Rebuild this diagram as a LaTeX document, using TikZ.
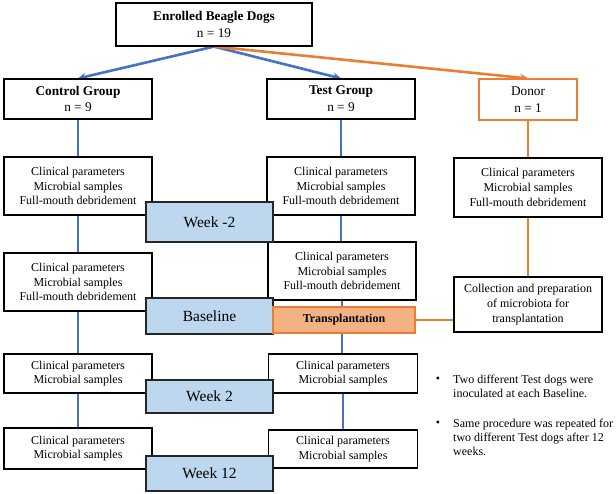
\documentclass[tikz,border=0pt]{standalone}
\usepackage{fontspec}
\setmainfont{Liberation Serif}
\usetikzlibrary{arrows.meta,backgrounds}
\definecolor{lblue}{HTML}{4472C4}
\definecolor{lorange}{HTML}{ED7D31}
\definecolor{wfill}{HTML}{BDD7EE}
\definecolor{tfill}{HTML}{F4B183}
\begin{document}
\begin{tikzpicture}[x=1pt,y=-1pt,
  box/.style={draw=black, line width=1.1pt, fill=white, align=center, inner sep=0pt,
    font=\fontsize{12}{14.7}\selectfont},
  head/.style={box, font=\fontsize{13.3}{16.7}\selectfont},
  week/.style={draw=black!85, line width=1.5pt, fill=wfill, inner sep=0pt,
    minimum width=127pt, font=\fontsize{15.5}{18}\selectfont},
  bl/.style={draw=lblue, line width=2.6pt},
  ol/.style={draw=lorange, line width=2.6pt},
  tip/.style={-{Stealth[length=8pt,width=8pt]}},
  btxt/.style={anchor=north west, align=left, inner sep=0pt, font=\fontsize{12}{14}\selectfont}
]
\useasboundingbox (0,0) rectangle (616,494);

% header boxes
\node[head, minimum width=196pt, minimum height=43pt] (enr) at (214,24.5)
  {\textbf{Enrolled Beagle Dogs}\\n = 19};
\node[head, minimum width=148pt, minimum height=40pt] (ctl) at (78,99)
  {\textbf{Control Group}\\n = 9};
\node[head, minimum width=148pt, minimum height=40pt] (tst) at (341,99)
  {\textbf{Test Group}\\n = 9};
\node[head, draw=lorange, minimum width=98pt, minimum height=41pt] (don) at (528,99.5)
  {Donor\\n = 1};

% clinical boxes
\node[box, minimum width=148pt, minimum height=58pt] (c1) at (78,186)
  {Clinical parameters\\Microbial samples\\Full-mouth debridement};
\node[box, minimum width=148pt, minimum height=58pt] (t1) at (341,186)
  {Clinical parameters\\Microbial samples\\Full-mouth debridement};
\node[box, minimum width=148pt, minimum height=59pt] (d1) at (528,187.5)
  {Clinical parameters\\Microbial samples\\Full-mouth debridement};
\node[box, minimum width=148pt, minimum height=58pt] (c2) at (78,282)
  {Clinical parameters\\Microbial samples\\Full-mouth debridement};
\node[box, minimum width=148pt, minimum height=58pt] (t2) at (342,271)
  {Clinical parameters\\Microbial samples\\Full-mouth debridement};
\node[box, minimum width=148pt, minimum height=55pt] (coll) at (528,304.5)
  {Collection and preparation\\of microbiota for\\transplantation};
\node[box, minimum width=148pt, minimum height=39pt] (c3) at (78,373.5)
  {Clinical parameters\\Microbial samples};
\node[box, minimum width=149pt, minimum height=39pt] (t3) at (343,373.5)
  {Clinical parameters\\Microbial samples};
\node[box, minimum width=148pt, minimum height=41pt] (c4) at (78,448.5)
  {Clinical parameters\\Microbial samples};
\node[box, minimum width=149pt, minimum height=38pt] (t4) at (343,449)
  {Clinical parameters\\Microbial samples};

% week boxes
\node[week, minimum height=40pt] (wm2) at (209.5,222) {Week -2};
\node[week, minimum height=36pt] (base) at (209.5,316) {Baseline};
\node[week, minimum height=33pt] (w2) at (209.5,396.5) {Week 2};
\node[week, minimum height=35pt] (w12) at (209.5,473.5) {Week 12};

% transplantation
\node[draw=lorange, line width=1.5pt, fill=tfill, inner sep=0pt,
  minimum width=142pt, minimum height=26pt, font=\fontsize{12}{14}\selectfont\bfseries]
  (trans) at (344,320) {Transplantation};

% notes
\node[inner sep=0pt, font=\fontsize{12}{14}\selectfont] (bu1) at (438,380) {\textbullet};
\node[btxt] (n1) at (453,374.5) {Two different Test dogs were\\inoculated at each Baseline.};
\node[inner sep=0pt, font=\fontsize{12}{14}\selectfont] (bu2) at (438,424) {\textbullet};
\node[btxt] (n2) at (453,418.5) {Same procedure was repeated for\\two different Test dogs after 12\\weeks.};

% connectors
\begin{scope}[on background layer]
  \draw[bl, tip] (enr.south) -- (ctl.north);
  \draw[bl, tip] (enr.south) -- (tst.north);
  \draw[ol, tip] (enr.south) -- (don.north);
  \draw[bl] (ctl.south) -- (c1.north);
  \draw[bl] (c1.south) -- (c2.north);
  \draw[bl] (c2.south) -- (c3.north);
  \draw[bl] (c3.south) -- (c4.north);
  \draw[bl] (tst.south) -- (t1.north);
  \draw[bl] (t1.south) -- (t1.south |- t2.north);
  \draw[bl] (t2.south) -- (t2.south |- t3.north);
  \draw[bl] (t3.south) -- (t4.north);
  \draw[ol] (don.south) -- (d1.north);
  \draw[ol] (d1.south) -- (coll.north);
  \draw[ol] (trans.east) -- (trans.east -| coll.west);
\end{scope}
\end{tikzpicture}
\end{document}
